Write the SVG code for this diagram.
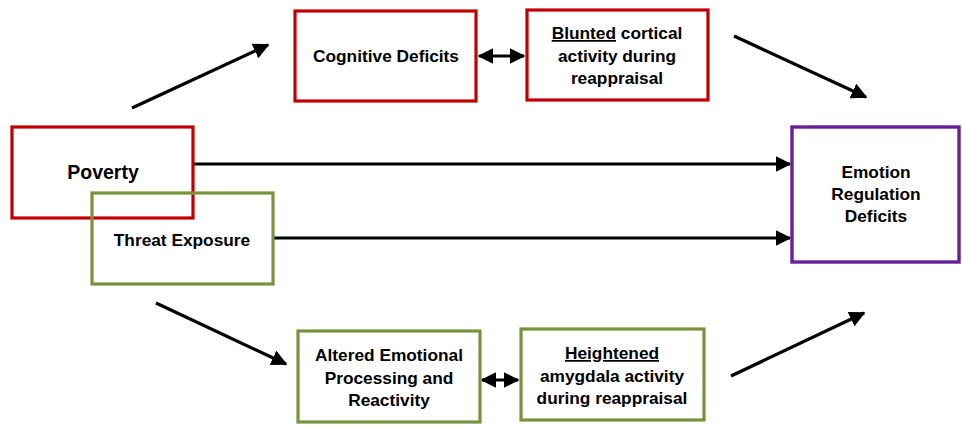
<svg xmlns="http://www.w3.org/2000/svg" width="962" height="427" viewBox="0 0 962 427">
<defs>
<marker id="ah" viewBox="0 0 10 10" refX="9" refY="5" markerWidth="5" markerHeight="5" orient="auto-start-reverse" markerUnits="strokeWidth">
<path d="M0,0 L10,5 L0,10 z" fill="#000"/>
</marker>
<style>
.red{fill:#fff;stroke:#C00000;stroke-width:3.2}
.grn{fill:none;stroke:#77933C;stroke-width:3.2}
.pur{fill:#fff;stroke:#6A1F9A;stroke-width:3.4}
.t{font-family:"Liberation Sans",Arial,sans-serif;font-weight:bold;font-size:17.3px;fill:#000;text-anchor:middle}
.c{stroke:#000;stroke-width:3.2;fill:none}
</style>
</defs>
<g id="connectors">
<line class="c" x1="194" y1="164" x2="790" y2="164" marker-end="url(#ah)"/>
<line class="c" x1="274" y1="238" x2="790" y2="238" marker-end="url(#ah)"/>
<line class="c" x1="132" y1="108" x2="268" y2="45" marker-end="url(#ah)"/>
<line class="c" x1="734" y1="36" x2="866" y2="97" marker-end="url(#ah)"/>
<line class="c" x1="156" y1="303" x2="286" y2="364" marker-end="url(#ah)"/>
<line class="c" x1="731" y1="376" x2="864" y2="313" marker-end="url(#ah)"/>
<line class="c" x1="479" y1="56" x2="524" y2="56" marker-start="url(#ah)" marker-end="url(#ah)"/>
<line class="c" x1="482" y1="380" x2="518" y2="380" marker-start="url(#ah)" marker-end="url(#ah)"/>
</g>
<g id="poverty">
<rect class="red" x="12" y="127" width="181" height="91"/>
<text class="t" x="103" y="179" style="font-size:19.5px">Poverty</text>
</g>
<g id="threat">
<rect class="grn" x="92" y="193" width="181" height="91"/>
<text class="t" x="182" y="246">Threat Exposure</text>
</g>
<g id="cognitive">
<rect class="red" x="295" y="11" width="181" height="90"/>
<text class="t" x="386" y="62">Cognitive Deficits</text>
</g>
<g id="blunted">
<rect class="red" x="527" y="10" width="181" height="90"/>
<text class="t" x="617" y="39"><tspan text-decoration="underline">Blunted</tspan> cortical</text>
<text class="t" x="617" y="62">activity during</text>
<text class="t" x="617" y="84">reappraisal</text>
</g>
<g id="altered">
<rect class="grn" x="298" y="331" width="182" height="91"/>
<text class="t" x="389" y="361">Altered Emotional</text>
<text class="t" x="389" y="384">Processing and</text>
<text class="t" x="389" y="406">Reactivity</text>
</g>
<g id="heightened">
<rect class="grn" x="521" y="329" width="183" height="91"/>
<text class="t" x="612" y="359" text-decoration="underline">Heightened</text>
<text class="t" x="612" y="382">amygdala activity</text>
<text class="t" x="612" y="404">during reappraisal</text>
</g>
<g id="emotion">
<rect class="pur" x="792" y="127" width="167" height="135"/>
<text class="t" x="876" y="178">Emotion</text>
<text class="t" x="876" y="200">Regulation</text>
<text class="t" x="876" y="222">Deficits</text>
</g>
</svg>
